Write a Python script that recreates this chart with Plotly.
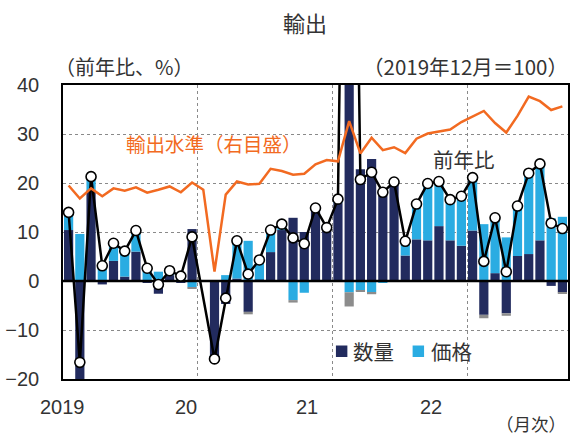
import plotly.graph_objects as go

# Monthly export data, Jan 2019 - Sep 2022 (2020-01 not reported separately)
months = [f"{y}-{m:02d}" for y in range(2019, 2023) for m in range(1, 13)][:45]

# Year-on-year contributions (% points)
volume = [10.4, -26.2, 18.5, -0.7, 4.1, 0.9, 6.0, -0.3, -2.6, 1.2, -0.3, 10.6,
          None, -15.2, -4.7, 0.5, -6.3, 0.3, 5.9, 10.4, 12.9, 10.0, 14.6, 11.0,
          15.9, 185.0, 22.8, 24.9, 18.4, 20.3, 5.2, 8.5, 8.3, 11.2, 8.3, 7.2,
          10.3, -6.9, 1.6, -6.6, 5.1, 5.5, 8.3, -1.0, -2.3]
price = [3.6, 9.6, 2.8, 3.8, 3.6, 5.2, 4.3, 2.9, 1.9, 0.9, 1.3, -1.3,
         None, -0.4, 1.2, 7.7, 8.2, 4.0, 4.5, 1.2, -3.9, -2.4, 0.3, -0.1,
         0.8, -2.3, -2.0, -2.3, -0.3, 0.1, 2.9, 7.2, 11.6, 9.1, 8.3, 10.1,
         10.8, 11.6, 11.3, 8.9, 10.2, 16.5, 15.6, 12.8, 13.1]
other = [0, 0, 0, 0, 0, 0, 0, 0, 0, 0, 0, -0.3,
         None, -0.3, 0, 0, -0.5, 0, 0, 0, -0.5, 0, 0, 0,
         0, -2.9, -0.2, -0.4, 0, 0, 0, 0, 0, 0, 0, 0,
         0, -0.7, 0, -0.5, 0, 0, 0, 0, -0.2]

# Year-on-year change of exports (%)
yoy = [14.0, -16.6, 21.3, 3.1, 7.7, 6.1, 10.3, 2.6, -0.7, 2.1, 1.0, 9.0,
       None, -15.9, -3.5, 8.2, 1.4, 4.3, 10.4, 11.6, 8.8, 7.6, 14.9, 10.9,
       16.7, 180.0, 20.7, 22.2, 18.1, 20.2, 8.1, 15.7, 19.9, 20.3, 16.6, 17.3,
       21.1, 4.0, 12.9, 1.9, 15.3, 22.0, 23.9, 11.8, 10.7]

# Export level index, Dec 2019 = 100 (right scale)
level = [99.1, 95.1, 98.2, 95.8, 98.2, 97.5, 98.5, 96.9, 97.8, 98.8, 97.0, 100.0,
         97.8, 72.7, 96.3, 100.3, 99.4, 99.6, 104.2, 103.5, 102.4, 102.7, 105.6, 106.9,
         106.5, 118.8, 108.9, 113.7, 109.9, 110.8, 109.0, 113.4, 115.0, 115.5, 116.2, 118.5,
         120.1, 121.9, 118.2, 115.3, 120.4, 126.3, 124.9, 122.2, 123.3]

year_labels = ["2019", "20", "21", "22"]
year_bounds = [11.5, 23.5, 35.5]

x = list(range(len(months)))

NAVY = "#222B5E"
SKY = "#2AACE2"
GRAY = "#8C8C8C"
ORANGE = "#F26A21"
TXT = "#333333"
JP = "Noto Sans CJK JP"
NUM = "Liberation Sans, Arial, sans-serif"

# plot-area geometry in pixels, used for placing free text
W, H = 572, 437
L, R, T, B = 63, 2, 85, 58


def px(xp):
    return (xp - L) / (W - L - R)


def py(yp):
    return (H - B - yp) / (H - T - B)


year_label_px = [62, 186, 308, 432]

fig = go.Figure()
fig.add_trace(go.Bar(x=x, y=volume, name="数量", marker=dict(color=NAVY, line=dict(width=0)),
                     hoverinfo="skip"))
fig.add_trace(go.Bar(x=x, y=price, name="価格", marker=dict(color=SKY, line=dict(width=0)),
                     hoverinfo="skip"))
fig.add_trace(go.Bar(x=x, y=other, name="その他",
                     marker=dict(color=GRAY, line=dict(width=0)), hoverinfo="skip"))
# zero line, drawn above the bars but below the year-on-year line
fig.add_trace(go.Scatter(x=[-0.5, 44.5], y=[0, 0], mode="lines",
                         line=dict(color="black", width=2.5), hoverinfo="skip"))
fig.add_trace(go.Scatter(x=x, y=yoy, mode="lines+markers", name="前年比",
                         connectgaps=True,
                         line=dict(color="black", width=2.5),
                         marker=dict(symbol="circle", size=10, color="white",
                                     line=dict(color="black", width=1.6))))
fig.add_trace(go.Scatter(x=x, y=level, mode="lines", name="輸出水準", yaxis="y2",
                         line=dict(color=ORANGE, width=2.5)))

annotations = [
    dict(text="輸出", x=px(306), y=py(22), font=dict(size=22, color=TXT, family=JP)),
    dict(text="（前年比、%）", x=px(53), y=py(66), xanchor="left",
         font=dict(size=20, color=TXT, family=JP)),
    dict(text="（2019年12月＝100）", x=px(572), y=py(66), xanchor="right",
         font=dict(size=20.5, color=TXT, family=JP)),
    dict(text="輸出水準（右目盛）", x=px(124), y=py(143), xanchor="left",
         font=dict(size=19.5, color=ORANGE, family=JP)),
    dict(text="前年比", x=px(466), y=py(159), font=dict(size=20.5, color=TXT, family=JP)),
    dict(text="（月次）", x=px(570), y=py(423), xanchor="right",
         font=dict(size=17.5, color=TXT, family=JP)),
    # legend entries
    dict(text="数量", x=px(352), y=py(351), xanchor="left",
         font=dict(size=20.5, color=TXT, family=JP)),
    dict(text="価格", x=px(430), y=py(351), xanchor="left",
         font=dict(size=20.5, color=TXT, family=JP)),
]
for lab, xp in zip(year_labels, year_label_px):
    annotations.append(dict(text=lab, x=px(xp), y=py(407),
                            font=dict(size=20, color=TXT, family=NUM)))
for a in annotations:
    a.update(xref="paper", yref="paper", showarrow=False)
    a.setdefault("xanchor", "center")
    a.setdefault("yanchor", "middle")

# legend swatches
shapes = []
for x0, col in [(337, NAVY), (414, SKY)]:
    shapes.append(dict(type="rect", xref="paper", yref="paper",
                       x0=px(x0), x1=px(x0 + 11.5), y0=py(357), y1=py(345.5),
                       fillcolor=col, line=dict(width=0)))

fig.update_layout(
    width=W, height=H,
    margin=dict(l=L, r=R, t=T, b=B),
    paper_bgcolor="white", plot_bgcolor="white",
    barmode="relative", bargap=0.18,
    showlegend=False,
    xaxis=dict(range=[-0.5, 44.5], tickvals=year_bounds, showticklabels=False,
               showgrid=True, gridcolor="#8a8a8a", griddash="dot", gridwidth=1,
               ticks="", zeroline=False,
               showline=True, linecolor="black", linewidth=1.5, mirror=True),
    yaxis=dict(range=[-20, 40], dtick=10, tick0=0,
               showgrid=True, gridcolor="#8a8a8a", griddash="dot", gridwidth=1,
               zeroline=False, ticks="", ticklabelstandoff=18,
               tickfont=dict(size=20, color=TXT, family=NUM),
               showline=True, linecolor="black", linewidth=1.5, mirror=True),
    yaxis2=dict(overlaying="y", side="right", range=[39.85, 129.85],
                showgrid=False, zeroline=False, showticklabels=False, showline=False,
                ticks=""),
    annotations=annotations,
    shapes=shapes,
)

fig.write_html("out.html")
